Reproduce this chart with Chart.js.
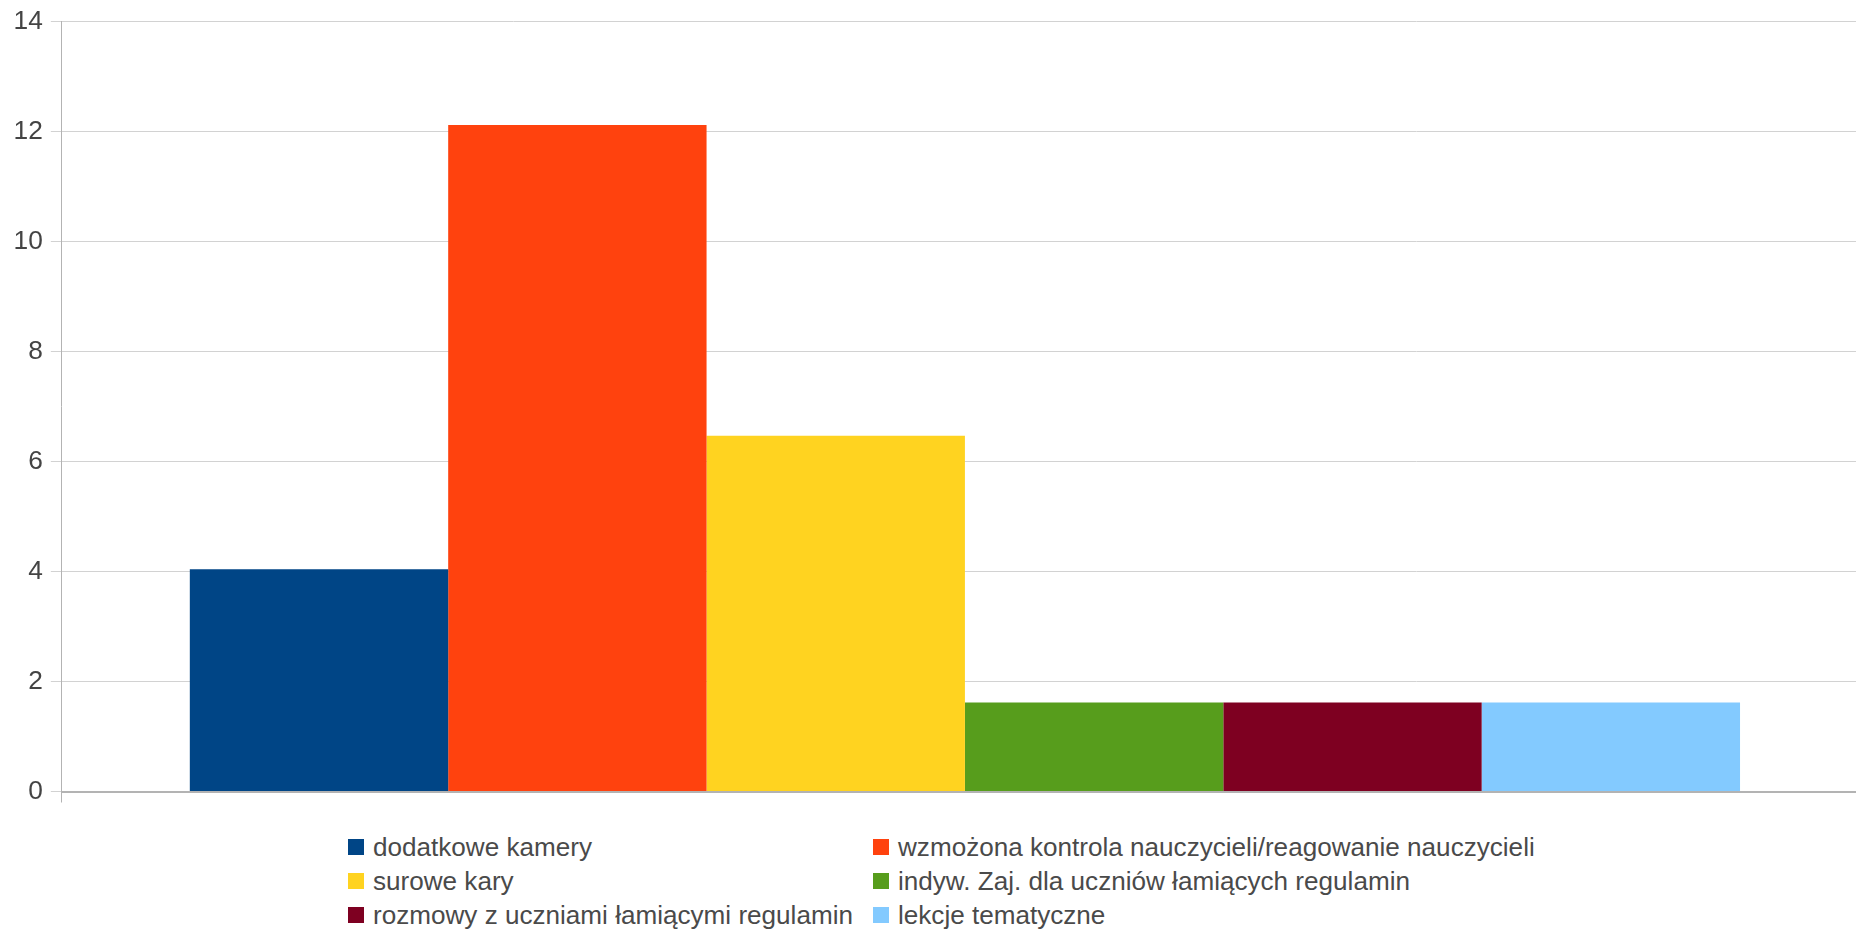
<!DOCTYPE html>
<html lang="pl">

<head>
  <meta charset="UTF-8" />
  <title>Wykres</title>
  <script src="https://cdn.jsdelivr.net/npm/chart.js"></script>
  <style>
    body {
      margin: 0;
      background: #fff;
      overflow: hidden;
      font-family: "Liberation Sans", Arial, sans-serif;
    }

    #wrap {
      position: absolute;
      left: 0;
      top: 0;
      width: 1868px;
      height: 810px;
    }

    #legenda {
      position: absolute;
      left: 348px;
      top: 830px;
      display: grid;
      grid-template-columns: 525px 525px;
      grid-auto-rows: 34px;
      font-size: 26.1px;
      color: #4a4a4a;
    }

    .item {
      display: flex;
      align-items: center;
      white-space: nowrap;
    }

    .kwadrat {
      width: 16px;
      height: 16px;
      margin-right: 9px;
      flex: none;
    }
  </style>
</head>

<body>
  <div id="wrap"><canvas id="wykres"></canvas></div>
  <div id="legenda"></div>

  <script>
    const kategorie = [
      'dodatkowe kamery',
      'wzmożona kontrola nauczycieli/reagowanie nauczycieli',
      'surowe kary',
      'indyw. Zaj. dla uczniów łamiących regulamin',
      'rozmowy z uczniami łamiącymi regulamin',
      'lekcje tematyczne'
    ];
    const wartosci = [4.04, 12.12, 6.47, 1.62, 1.62, 1.62];
    const kolory = ['#004586', '#ff420e', '#ffd320', '#579d1c', '#7e0021', '#83caff'];
    const osY = [0, 2, 4, 6, 8, 10, 12, 14];

    const datasets = [];
    for (let i = 0; i < kategorie.length; i++) {
      datasets.push({
        label: kategorie[i],
        data: [wartosci[i]],
        backgroundColor: kolory[i],
        borderWidth: 0
      });
    }

    new Chart(document.getElementById('wykres'), {
      type: 'bar',
      data: { labels: [''], datasets },
      options: {
        responsive: true,
        maintainAspectRatio: false,
        animation: false,
        layout: { padding: { top: 21.5, bottom: 7.5, left: 5.6, right: 0 } },
        datasets: {
          bar: { categoryPercentage: 0.8583, barPercentage: 1 }
        },
        plugins: {
          legend: { display: false },
          tooltip: { enabled: false }
        },
        scales: {
          x: {
            offset: true,
            grid: {
              offset: true,
              drawOnChartArea: false,
              drawTicks: true,
              tickLength: 11,
              color: '#b3b3b3'
            },
            border: { color: '#b3b3b3', width: 2 },
            ticks: { display: false }
          },
          y: {
            min: osY[0],
            max: osY[osY.length - 1],
            afterBuildTicks: (skala) => {
              skala.ticks = osY.map(v => ({ value: v }));
            },
            // bez dodatkowego marginesu na etykiety, obszar ustawia layout.padding
            afterFit: (skala) => {
              skala.paddingTop = 0;
              skala.paddingBottom = 0;
            },
            grid: { color: '#d2d2d2', tickLength: 11 },
            border: { color: '#b3b3b3', width: 1 },
            ticks: {
              padding: 8,
              color: '#444444',
              font: { family: 'Liberation Sans', size: 26.3 }
            }
          }
        }
      }
    });

    // legenda w dwóch kolumnach, jak w oryginale
    const legenda = document.getElementById('legenda');
    for (let i = 0; i < kategorie.length; i++) {
      legenda.innerHTML += `<div class="item"><span class="kwadrat" style="background:${kolory[i]}"></span>${kategorie[i]}</div>`;
    }
  </script>
</body>

</html>
